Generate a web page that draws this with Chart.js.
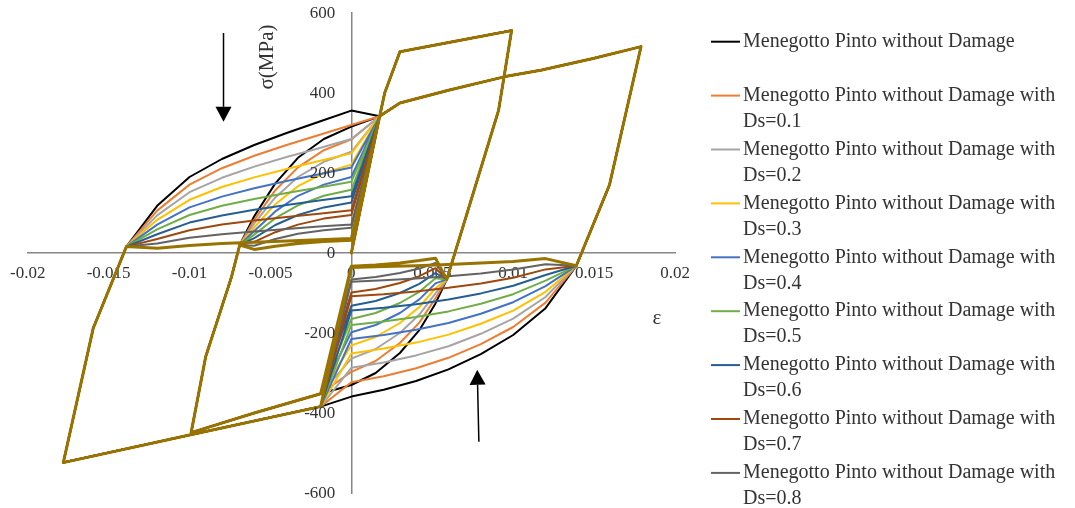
<!DOCTYPE html>
<html>
<head>
<meta charset="utf-8">
<script src="https://cdn.jsdelivr.net/npm/chart.js@4.4.0/dist/chart.umd.min.js"></script>
<style>
  html, body { margin: 0; padding: 0; background: #fff; }
  #wrap { width: 1075px; height: 508px; }
</style>
</head>
<body>
<div id="wrap"><canvas id="mpChart" width="1075" height="508"></canvas></div>
<script>
// damage levels of the degraded curves
const dsValues = ['0.1', '0.2', '0.3', '0.4', '0.5', '0.6', '0.7', '0.8', '0.9'];

// parts of the strain history shared by every curve (strain, stress in MPa)
const loadAEps = [0, 0.00175, 0.00206, 0.0030, 0.0065, 0.0099];
const loadASig = [0, 342, 400, 503, 530, 556];
const unloadAEps = [0.0091, 0.0059];
const unloadASig = [357, -66];
const revAEps = [-0.0019, -0.0060, -0.0099];
const revASig = [-352, -400, -449];
const reloadAEps = [-0.0090, -0.0074, -0.0069];
const reloadASig = [-259, -59, 20];
const loadBEps = [0.00175, 0.0030, 0.0060, 0.0095, 0.0117, 0.0150, 0.0179];
const loadBSig = [342, 375, 407, 441, 457, 487, 516];
const unloadBEps = [0.01595, 0.0139];
const unloadBSig = [170, -32];
const revBEps = [-0.0019, -0.0100, -0.0178];
const revBSig = [-384, -455, -524];
const reloadBEps = [-0.01595, -0.0139];
const reloadBSig = [-188, 16];
const endEps = [0.00175];
const endSig = [342];

// strains of the damaged branches
const raEps = [0.0052, 0.0042, 0.0030, 0.0015, 0];
const laEps = [-0.0060, -0.0047, -0.0033, -0.0017, 0];
const rbEps = [0.012, 0.010, 0.008, 0.006, 0.004, 0.002, 0];
const lbEps = [-0.012, -0.010, -0.008, -0.006, -0.004, -0.002, 0];

// stresses on the damaged branches, one row per curve (no damage, Ds=0.1 ... 0.9)
const raSig = [
  [-126, -193, -250, -300, -330],
  [-113, -174, -225, -270, -297],
  [-101, -154, -200, -240, -264],
  [-88, -135, -175, -210, -231],
  [-76, -116, -150, -180, -198],
  [-63, -97, -125, -150, -165],
  [-50, -77, -100, -120, -132],
  [-38, -58, -75, -90, -99],
  [-25, -39, -50, -60, -66],
  [-13, -19, -25, -30, -33]
];
const laSig = [
  [92, 174, 238, 285, 316],
  [83, 157, 214, 257, 284],
  [74, 139, 190, 228, 253],
  [64, 122, 167, 200, 221],
  [55, 104, 143, 171, 190],
  [46, 87, 119, 143, 158],
  [37, 70, 95, 114, 126],
  [28, 52, 71, 86, 95],
  [18, 35, 48, 57, 63],
  [9, 17, 24, 29, 32]
];
const rbSig = [
  [-138, -205, -253, -291, -320, -342, -359],
  [-124, -185, -228, -262, -288, -308, -323],
  [-110, -164, -202, -233, -256, -274, -287],
  [-97, -144, -177, -204, -224, -239, -251],
  [-83, -123, -152, -175, -192, -205, -215],
  [-69, -103, -127, -146, -160, -171, -180],
  [-55, -82, -101, -116, -128, -137, -144],
  [-41, -62, -76, -87, -96, -103, -108],
  [-28, -41, -51, -58, -64, -68, -72],
  [-14, -21, -25, -29, -32, -34, -36]
];
const lbSig = [
  [118, 190, 235, 270, 300, 328, 356],
  [106, 171, 212, 243, 270, 295, 320],
  [94, 152, 188, 216, 240, 262, 285],
  [83, 133, 165, 189, 210, 230, 249],
  [71, 114, 141, 162, 180, 197, 214],
  [59, 95, 118, 135, 150, 164, 178],
  [47, 76, 94, 108, 120, 131, 142],
  [35, 57, 71, 81, 90, 98, 107],
  [24, 38, 47, 54, 60, 66, 71],
  [12, 19, 24, 27, 30, 33, 36]
];

const xTicks = [-0.02, -0.015, -0.01, -0.005, 0, 0.005, 0.01, 0.015, 0.02];
const yTicks = [-600, -400, -200, 0, 200, 400, 600];

const lineColors = ['#000000', '#ED7D31', '#A5A5A5', '#FFC000', '#4472C4', '#70AD47',
  '#255E91', '#9E480E', '#636363', '#997300'];
const serif = "'Times New Roman', 'Liberation Serif', serif";
const textColor = '#333333';

const names = ['Menegotto Pinto without Damage']
  .concat(dsValues.map(d => 'Menegotto Pinto without Damage with Ds=' + d));

function pts(eps, sig) {
  return eps.map((e, i) => ({ x: e, y: sig[i] }));
}

function history(k) {
  return [].concat(
    pts(loadAEps, loadASig),
    pts(unloadAEps, unloadASig),
    pts(raEps, raSig[k]),
    pts(revAEps, revASig),
    pts(reloadAEps, reloadASig),
    pts(laEps, laSig[k]),
    pts(loadBEps, loadBSig),
    pts(unloadBEps, unloadBSig),
    pts(rbEps, rbSig[k]),
    pts(revBEps, revBSig),
    pts(reloadBEps, reloadBSig),
    pts(lbEps, lbSig[k]),
    pts(endEps, endSig)
  );
}

// later series sit on top of earlier ones
const datasets = names.map((name, k) => ({
  label: name,
  data: history(k),
  order: names.length - 1 - k,
  showLine: true,
  borderColor: lineColors[k],
  backgroundColor: lineColors[k],
  borderWidth: k === names.length - 1 ? 3 : 2,
  borderJoinStyle: 'round',
  borderCapStyle: 'round',
  pointRadius: 0,
  pointHoverRadius: 0,
  fill: false
}));

function arrow(ctx, x1, y1, x2, y2) {
  const ang = Math.atan2(y2 - y1, x2 - x1);
  const head = 15, half = 8;
  const bx = x2 - head * Math.cos(ang), by = y2 - head * Math.sin(ang);
  ctx.beginPath();
  ctx.moveTo(x1, y1);
  ctx.lineTo(bx, by);
  ctx.stroke();
  ctx.beginPath();
  ctx.moveTo(x2, y2);
  ctx.lineTo(bx + half * Math.sin(ang), by - half * Math.cos(ang));
  ctx.lineTo(bx - half * Math.sin(ang), by + half * Math.cos(ang));
  ctx.closePath();
  ctx.fill();
}

const tickFmt = v => String(Number(v.toFixed(3)));

// y tick labels, titles, arrows and the legend column on the right
const overlay = {
  id: 'overlay',
  afterDraw(chart) {
    const { ctx, scales: { x, y } } = chart;
    const x0 = x.getPixelForValue(0);
    ctx.save();

    ctx.fillStyle = textColor;
    ctx.font = '17px ' + serif;
    ctx.textAlign = 'right';
    ctx.textBaseline = 'middle';
    yTicks.forEach(v => ctx.fillText(tickFmt(v), x0 - 16, y.getPixelForValue(v) + 1));

    ctx.strokeStyle = '#000';
    ctx.fillStyle = '#000';
    ctx.lineWidth = 1.5;
    arrow(ctx, x.getPixelForValue(-0.0079), y.getPixelForValue(550),
      x.getPixelForValue(-0.0079), y.getPixelForValue(328));
    arrow(ctx, x.getPixelForValue(0.00788), y.getPixelForValue(-472),
      x.getPixelForValue(0.00778), y.getPixelForValue(-292));

    ctx.fillStyle = textColor;
    ctx.font = '21px ' + serif;
    ctx.textAlign = 'center';
    ctx.save();
    ctx.translate(x0 - 84, y.top + 44);
    ctx.rotate(-Math.PI / 2);
    ctx.fillText('σ(MPa)', 0, 0);
    ctx.restore();
    ctx.fillText('ε', x.right - 18, y.getPixelForValue(-163));

    // legend
    const lx = 711, top = 41.7, step = 53.9, lead = 26;
    ctx.font = '20px ' + serif;
    ctx.textAlign = 'left';
    chart.data.datasets.forEach((ds, k) => {
      const ly = top + k * step;
      ctx.strokeStyle = ds.borderColor;
      ctx.lineWidth = 2;
      ctx.beginPath();
      ctx.moveTo(lx, ly);
      ctx.lineTo(lx + 29, ly);
      ctx.stroke();
      ctx.fillStyle = textColor;
      if (k === 0) {
        ctx.fillText(ds.label, lx + 32, ly);
      } else {
        ctx.fillText('Menegotto Pinto without Damage with', lx + 32, ly);
        ctx.fillText('Ds=' + dsValues[k - 1], lx + 32, ly + lead);
      }
    });
    ctx.restore();
  }
};

new Chart(document.getElementById('mpChart'), {
  type: 'scatter',
  data: { datasets },
  options: {
    responsive: false,
    animation: false,
    events: [],
    layout: { padding: { left: 27, right: 400, top: 13, bottom: 15 } },
    plugins: { legend: { display: false }, tooltip: { enabled: false } },
    scales: {
      x: {
        type: 'linear',
        position: { y: 0 },
        min: -0.02,
        max: 0.02,
        afterBuildTicks: s => { s.ticks = xTicks.map(v => ({ value: v })); },
        grid: { display: false, drawTicks: false },
        border: { display: true, color: '#868686', width: 1.5 },
        ticks: {
          callback: tickFmt,
          padding: 10,
          maxRotation: 0,
          autoSkip: false,
          color: textColor,
          font: { family: serif, size: 17 }
        }
      },
      y: {
        type: 'linear',
        position: { x: 0 },
        min: -600,
        max: 600,
        afterBuildTicks: s => { s.ticks = yTicks.map(v => ({ value: v })); },
        grid: { display: false, drawTicks: false },
        border: { display: true, color: '#868686', width: 1.5 },
        ticks: { display: false }
      }
    }
  },
  plugins: [overlay]
});
</script>
</body>
</html>
